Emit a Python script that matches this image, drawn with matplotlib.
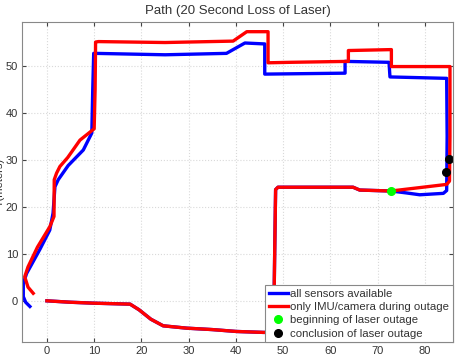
import numpy as np
import matplotlib
matplotlib.use("Agg")
import matplotlib.pyplot as plt

plt.rcParams['font.family'] = ['Liberation Sans', 'DejaVu Sans']

# ----------------- DATOS -----------------
# tramo común (ambas trayectorias coinciden hasta la pérdida del láser)
comun_x = [0.0, 5.0, 10.0, 17.6, 19.5, 22.0, 24.6, 29.6, 35.0, 40.1, 45.8, 47.3, 48.0, 48.2, 48.4, 48.9, 55.0, 64.8, 66.2, 72.8]
comun_y = [0.1, -0.2, -0.4, -0.6, -1.8, -3.8, -5.2, -5.7, -6.0, -6.4, -6.6, -6.6, -5.0, 10.0, 23.7, 24.2, 24.2, 24.2, 23.6, 23.4]

# todos los sensores (azul) después del inicio del corte
azul_x = [76.0, 78.9, 83.9, 84.6, 84.7, 84.6, 72.6, 72.4, 63.1, 63.1, 46.1, 46.1, 41.9, 38.0, 25.0, 10.2, 9.9,
          9.7, 9.5, 7.7, 4.5, 2.4, 1.7, 1.3, 0.6, -1.5, -4.3, -5.0, -5.0, -4.5, -3.6]
azul_y = [23.0, 22.6, 22.9, 23.5, 35.0, 47.3, 47.6, 50.7, 50.9, 48.4, 48.2, 54.6, 54.8, 52.6, 52.3, 52.6, 52.6,
          45.0, 35.7, 32.1, 28.8, 25.8, 24.3, 18.7, 15.1, 11.0, 5.9, 3.8, 1.0, -0.2, -1.1]

# sólo IMU/cámara (rojo) después del inicio del corte
rojo_x = [80.4, 84.6, 85.2, 85.3, 85.3, 72.9, 72.9, 63.8, 63.8, 51.4, 46.8, 46.8, 42.3, 39.4, 25.0, 10.9, 10.3,
          10.2, 10.0, 7.0, 4.4, 2.75, 2.05, 1.55, 1.5, 0.6, -2.0, -4.0, -4.7, -4.0, -2.9]
rojo_y = [24.3, 24.8, 25.5, 35.0, 49.8, 49.8, 53.4, 53.2, 50.9, 50.7, 50.6, 57.2, 57.2, 55.2, 54.9, 55.1, 55.0,
          45.0, 36.6, 34.2, 30.5, 28.6, 27.2, 25.8, 18.0, 15.8, 11.5, 7.3, 5.2, 3.0, 1.7]

inicio_x = [72.8]
inicio_y = [23.4]
fin_x = [84.4, 85.1]
fin_y = [27.4, 30.1]

etiquetas = ["all sensors available", "only IMU/camera during outage",
             "beginning of laser outage", "conclusion of laser outage"]
titulo = "Path (20 Second Loss of Laser)"
xticks = [0, 10, 20, 30, 40, 50, 60, 70, 80]
yticks = [0, 10, 20, 30, 40, 50]

# ----------------- GRÁFICA -----------------
fig = plt.figure(figsize=(4.56, 3.59), dpi=100)
ax = fig.add_axes([0.049, 0.0465, 0.944, 0.8915])

ax.plot(comun_x + azul_x, comun_y + azul_y, color="#0000ff", lw=2.4, label=etiquetas[0])
ax.plot(comun_x + rojo_x, comun_y + rojo_y, color="#ff0000", lw=2.4, label=etiquetas[1])
ax.plot(inicio_x, inicio_y, "o", color="#00ff00", ms=5.5, ls="none", label=etiquetas[2])
ax.plot(fin_x, fin_y, "o", color="black", ms=5.5, ls="none", label=etiquetas[3])

ax.set_xlim(-5.2, 85.9)
ax.set_ylim(-8.7, 59.2)
ax.set_xticks(xticks)
ax.set_yticks(yticks)
ax.grid(True, color="#d9d9d9", ls=":", lw=0.8)
ax.tick_params(direction="in", top=True, right=True, length=3, labelsize=8,
               colors="#444444", labelcolor="#333333", pad=3)
for s in ax.spines.values():
    s.set_color("#888888")
    s.set_linewidth(0.8)

ax.set_title(titulo, fontsize=9.5, color="#333333", pad=6)
# las etiquetas de los ejes quedan recortadas en el borde, igual que en la imagen original
ax.set_xlabel("X(meters)", fontsize=8, color="#333333", labelpad=2)
ax.set_ylabel("Y(meters)", fontsize=8, color="#333333", labelpad=1)

leg = ax.legend(loc="lower right", fontsize=8.2, borderaxespad=0, numpoints=1,
                handlelength=1.7, handletextpad=0.2, labelspacing=0.3,
                borderpad=0.3, fancybox=False, framealpha=1)
leg.get_frame().set_edgecolor("#888888")
leg.get_frame().set_linewidth(0.8)
for t in leg.get_texts():
    t.set_color("#333333")

fig.savefig("out.png", dpi=100)
